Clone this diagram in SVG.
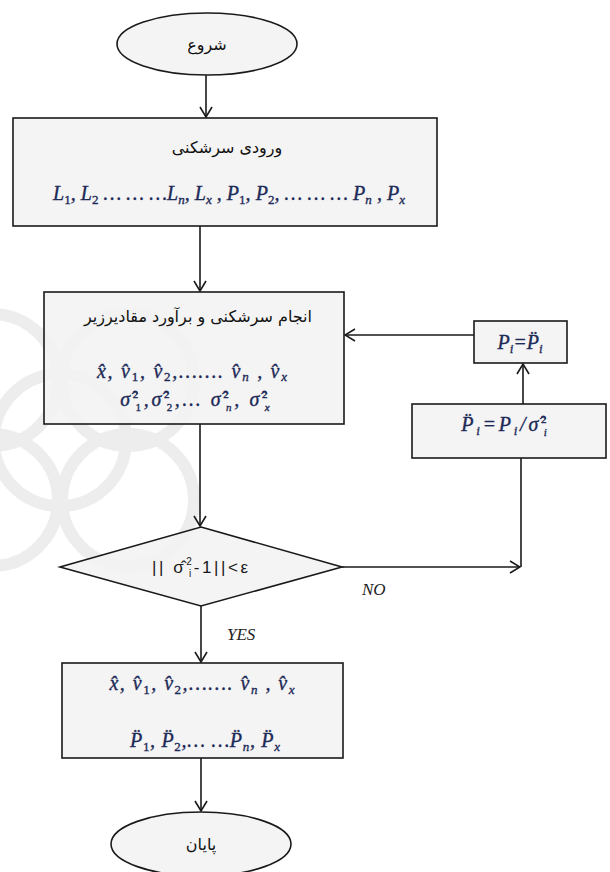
<svg xmlns="http://www.w3.org/2000/svg" width="610" height="872" viewBox="0 0 610 872">
<style>
.bg{fill:#ffffff}
.wm{fill:none;stroke:#ededed;stroke-width:12}
.box{fill:#f2f2f2;fill-opacity:0.85;stroke:#1a1a1a;stroke-width:1.6}
.fa{font-family:"DejaVu Sans","Noto Sans",sans-serif;font-size:16px;fill:#111111}
.m{font-family:"Liberation Serif",serif;font-style:italic;font-size:20px;fill:#1d2a57;stroke:#1d2a57;stroke-width:0.35}
.s{font-size:13px;font-style:normal}
.si{font-size:13px}
.t{font-size:11px;font-style:normal}
.ti{font-size:11px}
.d{font-family:"Liberation Sans",sans-serif;font-size:17px;fill:#1a1a1a}
.lbl{font-family:"Liberation Serif",serif;font-style:italic;font-size:17px;fill:#222222}
.c{fill:none;stroke:#1a1a1a;stroke-width:1.6}
</style>
<defs>
<marker id="arr" viewBox="0 0 12 14" refX="11" refY="7" markerWidth="12" markerHeight="14" markerUnits="userSpaceOnUse" orient="auto">
<path d="M1,1 L11,7 L1,13" fill="none" stroke="#1a1a1a" stroke-width="1.6"/>
</marker>
</defs>
<rect class="bg" x="0" y="0" width="610" height="872"/>
<g id="watermark">
<circle class="wm" cx="60" cy="440" r="66"/>
<circle class="wm" cx="-8" cy="380" r="66"/>
<circle class="wm" cx="-8" cy="500" r="66"/>
<circle class="wm" cx="128" cy="380" r="66"/>
<circle class="wm" cx="128" cy="500" r="66"/>
</g>
<g id="connectors">
<line class="c" x1="206" y1="75" x2="206" y2="117" marker-end="url(#arr)"/>
<line class="c" x1="200" y1="226" x2="200" y2="291" marker-end="url(#arr)"/>
<line class="c" x1="200" y1="424" x2="200" y2="526" marker-end="url(#arr)"/>
<line class="c" x1="342" y1="567" x2="520" y2="567" marker-end="url(#arr)"/>
<line class="c" x1="521" y1="567" x2="521" y2="458"/>
<line class="c" x1="523" y1="404" x2="523" y2="364" marker-end="url(#arr)"/>
<line class="c" x1="474" y1="335" x2="345" y2="335" marker-end="url(#arr)"/>
<line class="c" x1="201" y1="606" x2="201" y2="662" marker-end="url(#arr)"/>
<line class="c" x1="201" y1="758" x2="201" y2="811" marker-end="url(#arr)"/>
<text class="lbl" x="362" y="595">NO</text>
<text class="lbl" x="227" y="640">YES</text>
</g>
<g id="start">
<ellipse class="box" cx="207" cy="44" rx="90" ry="31"/>
<text class="fa" x="207" y="50" text-anchor="middle">شروع</text>
</g>
<g id="input">
<rect class="box" x="13" y="118" width="424" height="108"/>
<text class="fa" x="227" y="153" text-anchor="middle">ورودی سرشکنی</text>
<text class="m" x="229" y="200" text-anchor="middle" textLength="352" lengthAdjust="spacing">L<tspan class="s" dy="4">1</tspan><tspan dy="-4">, L</tspan><tspan class="s" dy="4">2</tspan><tspan dy="-4"> … … …L</tspan><tspan class="si" dy="4">n</tspan><tspan dy="-4">, L</tspan><tspan class="si" dy="4">x</tspan><tspan dy="-4">  , P</tspan><tspan class="s" dy="4">1</tspan><tspan dy="-4">, P</tspan><tspan class="s" dy="4">2</tspan><tspan dy="-4">, … … … P</tspan><tspan class="si" dy="4">n</tspan><tspan dy="-4"> , P</tspan><tspan class="si" dy="4">x</tspan></text>
</g>
<g id="adjust">
<rect class="box" x="44" y="292" width="300" height="132"/>
<text class="fa" x="198" y="322" text-anchor="middle">انجام سرشکنی و برآورد مقادیرزیر</text>
<text class="m" x="192" y="378" text-anchor="middle" textLength="190" lengthAdjust="spacing">x&#x302;, v&#x302;<tspan class="s" dy="3">1</tspan><tspan dy="-3">, v&#x302;</tspan><tspan class="s" dy="3">2</tspan><tspan dy="-3">,……. v&#x302;</tspan><tspan class="si" dy="3">n</tspan><tspan dy="-3"> , v&#x302;</tspan><tspan class="si" dy="3">x</tspan></text>
<text class="m" x="195" y="406" text-anchor="middle" textLength="150" lengthAdjust="spacing">σ&#x302;<tspan class="t" dy="-8">2</tspan><tspan class="t" dx="-5.5" dy="13">1</tspan><tspan dy="-5">,σ&#x302;</tspan><tspan class="t" dy="-8">2</tspan><tspan class="t" dx="-5.5" dy="13">2</tspan><tspan dy="-5">,… σ&#x302;</tspan><tspan class="t" dy="-8">2</tspan><tspan class="ti" dx="-5.5" dy="13">n</tspan><tspan dy="-5">, σ&#x302;</tspan><tspan class="t" dy="-8">2</tspan><tspan class="ti" dx="-5.5" dy="13">x</tspan></text>
</g>
<g id="update">
<rect class="box" x="474" y="321" width="93" height="42"/>
<text class="m" x="520" y="349" text-anchor="middle">P<tspan class="si" dy="4">i</tspan><tspan dy="-4">=P&#x308;</tspan><tspan class="si" dy="4">i</tspan></text>
</g>
<g id="weight">
<rect class="box" x="412" y="404" width="194" height="54"/>
<text class="m" x="504" y="431" text-anchor="middle" textLength="88" lengthAdjust="spacing">P&#x308;<tspan class="si" dy="4">i</tspan><tspan dy="-4">=P</tspan><tspan class="si" dy="4">i</tspan><tspan dy="-4">/σ&#x302;</tspan><tspan class="t" dy="-8">2</tspan><tspan class="ti" dx="-5.5" dy="13">i</tspan></text>
</g>
<g id="test">
<polygon class="box" points="201,527 342,567 201,606 60,567"/>
<text class="d" x="200" y="573" text-anchor="middle" textLength="96" lengthAdjust="spacing">|| σ&#x302;<tspan font-size="10" dy="-8">2</tspan><tspan font-size="10" dx="-5.5" dy="12">i</tspan><tspan dy="-4">-1||&lt;ε</tspan></text>
</g>
<g id="result">
<rect class="box" x="62" y="663" width="281" height="95"/>
<text class="m" x="202" y="690" text-anchor="middle" textLength="185" lengthAdjust="spacing">x&#x302;, v&#x302;<tspan class="s" dy="4">1</tspan><tspan dy="-4">, v&#x302;</tspan><tspan class="s" dy="4">2</tspan><tspan dy="-4">,……. v&#x302;</tspan><tspan class="si" dy="4">n</tspan><tspan dy="-4"> , v&#x302;</tspan><tspan class="si" dy="4">x</tspan></text>
<text class="m" x="205" y="747" text-anchor="middle" textLength="150" lengthAdjust="spacing">P&#x308;<tspan class="s" dy="4">1</tspan><tspan dy="-4">, P&#x308;</tspan><tspan class="s" dy="4">2</tspan><tspan dy="-4">,… …P&#x308;</tspan><tspan class="si" dy="4">n</tspan><tspan dy="-4">, P&#x308;</tspan><tspan class="si" dy="4">x</tspan></text>
</g>
<g id="end">
<ellipse class="box" cx="201" cy="844" rx="90" ry="32"/>
<text class="fa" x="201" y="850" text-anchor="middle">پایان</text>
</g>
</svg>
